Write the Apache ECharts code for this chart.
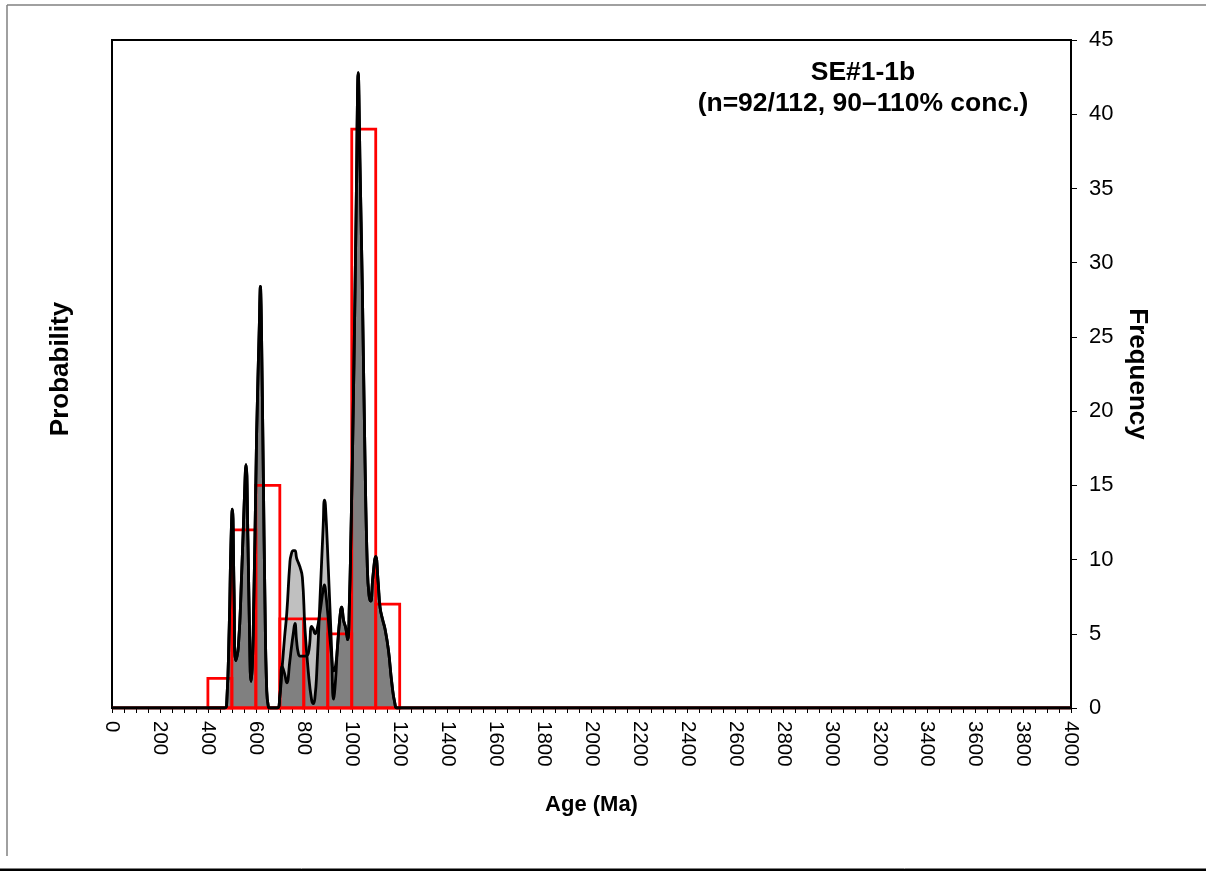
<!DOCTYPE html>
<html>
<head>
<meta charset="utf-8">
<title>SE#1-1b detrital zircon ages</title>
<script src="https://cdn.jsdelivr.net/npm/echarts@6/dist/echarts.min.js"></script>
<style>
  html, body { margin: 0; padding: 0; background: #ffffff; }
  #chart { width: 1206px; height: 874px; }
</style>
</head>
<body>
<div id="chart"></div>
<script>
// Histogram: 100 Ma bins (start age, number of grains)
const binStarts = [400, 500, 600, 700, 800, 900, 1000, 1100];
const binCounts = [2, 12, 15, 6, 6, 5, 39, 7];
const binWidth = 100;

// Probability density curves, sampled on a shared age grid (Ma)
const ageGrid = [0, 470, 478, 489, 496, 502, 509, 516, 527, 541, 551, 559, 567, 573, 580, 589,
  603, 615, 617, 619, 621, 623, 631, 638, 645, 652, 660, 690, 700, 710, 720, 729, 742, 747, 756, 763,
  770, 777, 784, 794, 805, 819, 833, 840, 847, 854, 868, 881, 886, 890, 902, 916, 924, 932,
  940, 950, 958, 966, 975, 983, 990, 997, 1004, 1014, 1021, 1024, 1027, 1030, 1034, 1044, 1055, 1065,
  1072, 1079, 1088, 1100, 1110, 1118, 1128, 1139, 1153, 1167, 1180, 1190, 4000];

// concordant analyses (dark curve)
const pdpConcordant = [0, 0, 0.2, 5.5, 11, 13.4, 8, 3.2, 4.1, 9.1, 13.6, 16.4, 11.3, 5.7, 1.8, 5,
  18.3, 26.1, 27.7, 28.4, 27.7, 26.1, 16, 7.1, 1.4, 0.1, 0, 0, 0.8, 2.8, 2.3, 1.7, 3.2, 3.9, 5.0, 5.7,
  4.5, 3.7, 3.5, 3.5, 3.5, 3.7, 5.5, 5.3, 5.0, 5.2, 6.5, 8.0, 8.3, 8.0, 6.0, 3.5, 2.5, 2.8,
  4.0, 6.0, 6.8, 5.9, 5.4, 4.6, 7, 12, 18, 28.5, 37, 41.3, 42.8, 41.3, 37, 28.5, 17, 9.5,
  7.6, 7.2, 8.8, 10.2, 8.5, 6.8, 6.0, 5.3, 3.9, 1.7, 0.3, 0, 0];

// all analyses (light curve)
const pdpAll = [0, 0, 0.2, 5.5, 11, 13.4, 8, 3.2, 4.1, 9.1, 13.6, 16.4, 11.3, 5.7, 1.8, 5,
  18.3, 26.1, 27.7, 28.4, 27.7, 26.1, 16, 7.1, 1.4, 0.1, 0, 0, 0.8, 2.8, 4.8, 6.4, 9.8, 10.3, 10.6, 10.6,
  10.1, 9.8, 9.5, 8.8, 5.3, 2.4, 0.5, 0.3, 0.8, 2.4, 7.5, 12.3, 14.0, 13.7, 9.5, 3.9, 0.6, 1.8,
  4.0, 6.0, 6.8, 5.9, 5.4, 4.6, 7, 12, 18, 28.5, 37, 41.3, 42.8, 41.3, 37, 28.5, 17, 9.5,
  7.6, 7.2, 8.8, 10.2, 8.5, 6.8, 6.0, 5.3, 3.9, 1.7, 0.3, 0, 0];

const xTickStep = 200;
const freqMax = 45;
const freqStep = 5;

const FONT = '"Liberation Sans", Arial, sans-serif';

const pairs = (ys) => ageGrid.map((a, i) => [a, ys[i]]);
// Overlap of both curves is dark grey, area under only one of them is light grey
const upperEnvelope = ageGrid.map((a, i) => [a, Math.max(pdpAll[i], pdpConcordant[i])]);
const lowerEnvelope = ageGrid.map((a, i) => [a, Math.min(pdpAll[i], pdpConcordant[i])]);

const chart = echarts.init(document.getElementById('chart'), null, { renderer: 'canvas' });

const curveBase = {
  type: 'line',
  yAxisIndex: 0,
  smooth: 0.5,
  showSymbol: false,
  silent: true,
  animation: false
};

chart.setOption({
  backgroundColor: '#ffffff',
  animation: false,
  grid: {
    left: 112, right: 135, top: 40, bottom: 166,
    show: true, borderColor: '#000000', borderWidth: 2, backgroundColor: 'transparent'
  },
  graphic: [
    { type: 'line', shape: { x1: 7, y1: 5, x2: 1206, y2: 5 }, style: { stroke: '#808080', lineWidth: 1.5 } },
    { type: 'line', shape: { x1: 7, y1: 5, x2: 7, y2: 856 }, style: { stroke: '#808080', lineWidth: 1.5 } },
    { type: 'line', shape: { x1: 0, y1: 870, x2: 1206, y2: 870 }, style: { stroke: '#000000', lineWidth: 2 } },
    { type: 'line', shape: { x1: 0, y1: 868.5, x2: 1206, y2: 868.5 }, style: { stroke: '#808080', lineWidth: 1 } },
    {
      type: 'text', x: 863, y: 57, z: 10,
      style: {
        text: 'SE#1-1b\n(n=92/112, 90–110% conc.)',
        textAlign: 'center', textVerticalAlign: 'top',
        font: 'bold 26.5px ' + FONT, lineHeight: 31, fill: '#000000'
      }
    }
  ],
  xAxis: {
    type: 'value',
    min: 0, max: 4000, interval: xTickStep,
    name: 'Age (Ma)', nameLocation: 'middle', nameGap: 86,
    nameTextStyle: { fontFamily: FONT, fontWeight: 'bold', fontSize: 22, color: '#000000' },
    axisLine: { show: true, lineStyle: { color: '#000000', width: 2 } },
    axisTick: { show: true, length: 5, lineStyle: { color: '#000000', width: 1 } },
    minorTick: { show: true, splitNumber: 4, length: 5, lineStyle: { color: '#000000', width: 1 } },
    axisLabel: {
      rotate: -90, margin: 13, fontFamily: FONT, fontSize: 20.5, color: '#000000',
      formatter: (v) => String(v)
    },
    splitLine: { show: false },
    minorSplitLine: { show: false }
  },
  yAxis: [
    {
      type: 'value', position: 'left', min: 0, max: freqMax,
      name: 'Probability', nameLocation: 'middle', nameRotate: 90, nameGap: 38,
      nameTextStyle: { fontFamily: FONT, fontWeight: 'bold', fontSize: 26, color: '#000000', padding: [0, 0, 0, 10] },
      axisLine: { show: true, lineStyle: { color: '#000000', width: 2 } },
      axisTick: { show: false },
      axisLabel: { show: false },
      splitLine: { show: false }
    },
    {
      type: 'value', position: 'right', min: 0, max: freqMax, interval: freqStep,
      name: 'Frequency', nameLocation: 'middle', nameRotate: -90, nameGap: 52,
      nameTextStyle: { fontFamily: FONT, fontWeight: 'bold', fontSize: 26, color: '#000000' },
      axisLine: { show: true, lineStyle: { color: '#000000', width: 2 } },
      axisTick: { show: true, length: 6, lineStyle: { color: '#000000', width: 1 } },
      axisLabel: { margin: 18, fontFamily: FONT, fontSize: 22, color: '#000000' },
      splitLine: { show: false }
    }
  ],
  series: [
    Object.assign({}, curveBase, {
      name: 'envelope', z: 1, data: upperEnvelope,
      lineStyle: { width: 0, opacity: 0 },
      areaStyle: { color: '#c0c0c0', opacity: 1 }
    }),
    Object.assign({}, curveBase, {
      name: 'overlap', z: 2, data: lowerEnvelope,
      lineStyle: { width: 0, opacity: 0 },
      areaStyle: { color: '#808080', opacity: 1 }
    }),
    {
      name: 'histogram zero', type: 'line', yAxisIndex: 1, z: 3,
      showSymbol: false, silent: true,
      data: [[0, 0], [4000, 0]],
      lineStyle: { color: '#ff0000', width: 3 }
    },
    {
      name: 'histogram', type: 'custom', yAxisIndex: 1, z: 4, silent: true,
      encode: { x: 0, y: 1 },
      data: binStarts.map((s, i) => [s, binCounts[i]]),
      renderItem: function (params, api) {
        const x0 = api.value(0);
        const n = api.value(1);
        const pTop = api.coord([x0, n]);
        const pBot = api.coord([x0 + binWidth, 0]);
        return {
          type: 'rect',
          shape: { x: pTop[0], y: pTop[1], width: pBot[0] - pTop[0], height: pBot[1] - pTop[1] },
          style: { fill: 'none', stroke: '#ff0000', lineWidth: 2.8 }
        };
      }
    },
    Object.assign({}, curveBase, {
      name: 'all analyses', z: 5, data: pairs(pdpAll),
      lineStyle: { color: '#000000', width: 2.8 }
    }),
    Object.assign({}, curveBase, {
      name: 'concordant', z: 6, data: pairs(pdpConcordant),
      lineStyle: { color: '#000000', width: 2.8 }
    })
  ]
});
</script>
</body>
</html>
